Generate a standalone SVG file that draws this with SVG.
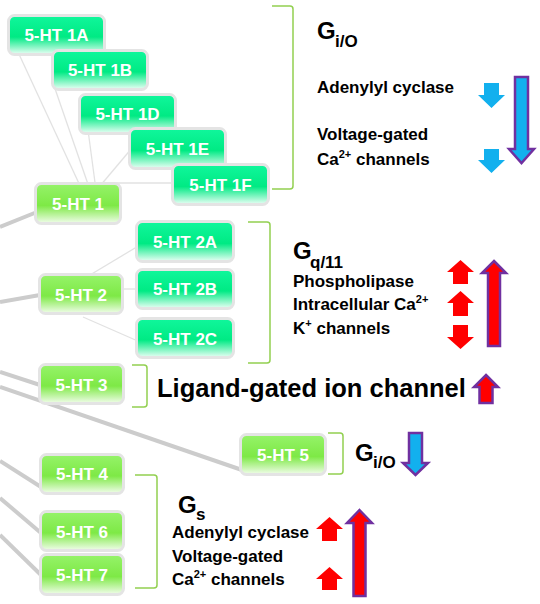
<svg xmlns="http://www.w3.org/2000/svg" width="540" height="604" viewBox="0 0 540 604">
<defs>
<linearGradient id="gL1" x1="0" y1="0" x2="0" y2="1">
<stop offset="0" stop-color="#96f36a"/>
<stop offset="0.55" stop-color="#7ee946"/>
<stop offset="1" stop-color="#f2fdec"/>
</linearGradient>
<linearGradient id="gL2" x1="0" y1="0" x2="0" y2="1">
<stop offset="0" stop-color="#10f79c"/>
<stop offset="0.55" stop-color="#00ea84"/>
<stop offset="1" stop-color="#ecfff6"/>
</linearGradient>
<style>
.l1 rect{fill:url(#gL1);stroke:#e4e4e4;stroke-width:3}
.l2 rect{fill:url(#gL2);stroke:#e4e4e4;stroke-width:3}
.node text{fill:#ffffff;font-family:"Liberation Sans",Arial,sans-serif;font-weight:bold;font-size:17px;text-anchor:middle}
.thick{stroke:#cccccc;stroke-width:4;fill:none}
.thin{stroke:#e2e2e2;stroke-width:1.3;fill:none}
.br{stroke:#92d050;stroke-width:1.5;fill:none}
.t{font-family:"Liberation Sans",Arial,sans-serif;font-weight:bold;fill:#000000}
.lab{font-size:17px}
.g{font-size:24px}
.sub{font-size:17px}
.sup{font-size:11px}
.blue{fill:#12b0ee}
.red{fill:#ff0000}
.big{stroke:#7030a0;stroke-width:2.5}
</style>
</defs>
<g id="connectors">
<line class="thick" x1="0" y1="227" x2="37" y2="212"/>
<line class="thick" x1="0" y1="302" x2="40" y2="295"/>
<line class="thick" x1="0" y1="372" x2="40" y2="385"/>
<line class="thick" x1="0" y1="387" x2="242" y2="470"/>
<line class="thick" x1="0" y1="461" x2="41" y2="487"/>
<line class="thick" x1="0" y1="498" x2="41" y2="533"/>
<line class="thick" x1="0" y1="535" x2="41" y2="575"/>
<line class="thin" x1="18" y1="52" x2="82" y2="190"/>
<line class="thin" x1="52" y1="80" x2="90" y2="190"/>
<line class="thin" x1="88" y1="130" x2="96" y2="190"/>
<line class="thin" x1="132" y1="148" x2="100" y2="186"/>
<line class="thin" x1="175" y1="183" x2="110" y2="183"/>
<line class="thin" x1="140" y1="245" x2="85" y2="278"/>
<line class="thin" x1="115" y1="289" x2="140" y2="289"/>
<line class="thin" x1="83" y1="317" x2="140" y2="342"/>
</g>
<g id="n1A" class="node l2"><rect x="8.5" y="15.5" width="96" height="39" rx="6"/><text x="56.5" y="41">5-HT 1A</text></g>
<g id="n1B" class="node l2"><rect x="52.5" y="50.5" width="95" height="39" rx="6"/><text x="100" y="76">5-HT 1B</text></g>
<g id="n1D" class="node l2"><rect x="79.5" y="94.5" width="96" height="39" rx="6"/><text x="127.5" y="120">5-HT 1D</text></g>
<g id="n1E" class="node l2"><rect x="129.5" y="128.5" width="96" height="40" rx="6"/><text x="177.5" y="155">5-HT 1E</text></g>
<g id="n1F" class="node l2"><rect x="172.5" y="164.5" width="96" height="40" rx="6"/><text x="220.5" y="190.5">5-HT 1F</text></g>
<g id="n1" class="node l1"><rect x="35.5" y="183.5" width="85" height="40" rx="6"/><text x="78" y="210">5-HT 1</text></g>
<g id="n2A" class="node l2"><rect x="136.5" y="221.5" width="97" height="40" rx="6"/><text x="185" y="248">5-HT 2A</text></g>
<g id="n2B" class="node l2"><rect x="136.5" y="269.5" width="97" height="39" rx="6"/><text x="185" y="295">5-HT 2B</text></g>
<g id="n2C" class="node l2"><rect x="136.5" y="318.5" width="97" height="39" rx="6"/><text x="185" y="344.5">5-HT 2C</text></g>
<g id="n2" class="node l1"><rect x="39.5" y="274.5" width="83" height="39" rx="6"/><text x="81" y="300.5">5-HT 2</text></g>
<g id="n3" class="node l1"><rect x="39.5" y="364.5" width="84" height="39" rx="6"/><text x="81.5" y="390.5">5-HT 3</text></g>
<g id="n4" class="node l1"><rect x="40.5" y="454.5" width="83" height="39" rx="6"/><text x="82" y="480">5-HT 4</text></g>
<g id="n5" class="node l1"><rect x="240.5" y="434.5" width="85" height="40" rx="6"/><text x="283" y="461">5-HT 5</text></g>
<g id="n6" class="node l1"><rect x="40.5" y="511.5" width="83" height="39" rx="6"/><text x="82" y="537.5">5-HT 6</text></g>
<g id="n7" class="node l1"><rect x="40.5" y="554.5" width="83" height="40" rx="6"/><text x="82" y="581">5-HT 7</text></g>
<g id="brackets">
<path class="br" d="M272 6 H290 Q293 6 293 9 V186 Q293 189 290 189 H272"/>
<path class="br" d="M248 222 H267 Q270 222 270 225 V360 Q270 363 267 363 H248"/>
<path class="br" d="M132 365 H144 Q147 365 147 368 V404 Q147 407 144 407 H132"/>
<path class="br" d="M328 433 H340 Q343 433 343 436 V471 Q343 474 340 474 H328"/>
<path class="br" d="M135 475 H154 Q157 475 157 478 V585 Q157 588 154 588 H135"/>
</g>
<g id="gio-top">
<text class="t g" x="317" y="39">G</text>
<text class="t sub" x="335" y="47">i/O</text>
<text class="t lab" x="317" y="93">Adenylyl cyclase</text>
<text class="t lab" x="317" y="140">Voltage-gated</text>
<text class="t lab" x="317" y="165">Ca<tspan class="sup" dy="-7">2+</tspan><tspan dy="7"> channels</tspan></text>
<path class="blue" d="M484 83 H499 V95 H505 L491.5 108 L478 95 H484 Z"/>
<path class="blue" d="M484 149 H499 V160 H505 L491.5 173 L478 160 H484 Z"/>
<path class="blue big" d="M515 77 H528 V149 H534 L521.5 163 L509 149 H515 Z"/>
</g>
<g id="gq">
<text class="t g" x="293" y="259">G</text>
<text class="t sub" x="310" y="268">q/11</text>
<text class="t lab" x="293" y="287">Phospholipase</text>
<text class="t lab" x="293" y="310">Intracellular Ca<tspan class="sup" dy="-7">2+</tspan></text>
<text class="t lab" x="293" y="334">K<tspan class="sup" dy="-7">+</tspan><tspan dy="7"> channels</tspan></text>
<path class="red" d="M460.5 260 L474 272 H468 V284 H453 V272 H447 Z"/>
<path class="red" d="M460.5 291 L474 303 H468 V316 H453 V303 H447 Z"/>
<path class="red" d="M453 325 H468 V337 H474 L460.5 349 L447 337 H453 Z"/>
<path class="red big" d="M494 261 L506 273 H500 V346 H488 V273 H482 Z"/>
</g>
<g id="lgic">
<text class="t" x="157" y="397" font-size="25.5">Ligand-gated ion channel</text>
<path class="red big" d="M486 375 L498 387 H492.5 V403 H479.5 V387 H474 Z"/>
</g>
<g id="gio5">
<text class="t g" x="355" y="461">G</text>
<text class="t sub" x="373" y="468">i/O</text>
<path class="blue big" d="M409 433 H422 V463 H428 L415.5 475 L403 463 H409 Z"/>
</g>
<g id="gs">
<text class="t g" x="178" y="513">G</text>
<text class="t sub" x="196" y="520">s</text>
<text class="t lab" x="172" y="538">Adenylyl cyclase</text>
<text class="t lab" x="172" y="562">Voltage-gated</text>
<text class="t lab" x="172" y="585">Ca<tspan class="sup" dy="-7">2+</tspan><tspan dy="7"> channels</tspan></text>
<path class="red" d="M329.5 517 L343 529 H337 V541 H322 V529 H316 Z"/>
<path class="red" d="M329.5 567 L343 579 H337 V590 H322 V579 H316 Z"/>
<path class="red big" d="M359.5 510 L372 523 H365.5 V596 H353.5 V523 H347 Z"/>
</g>
</svg>
